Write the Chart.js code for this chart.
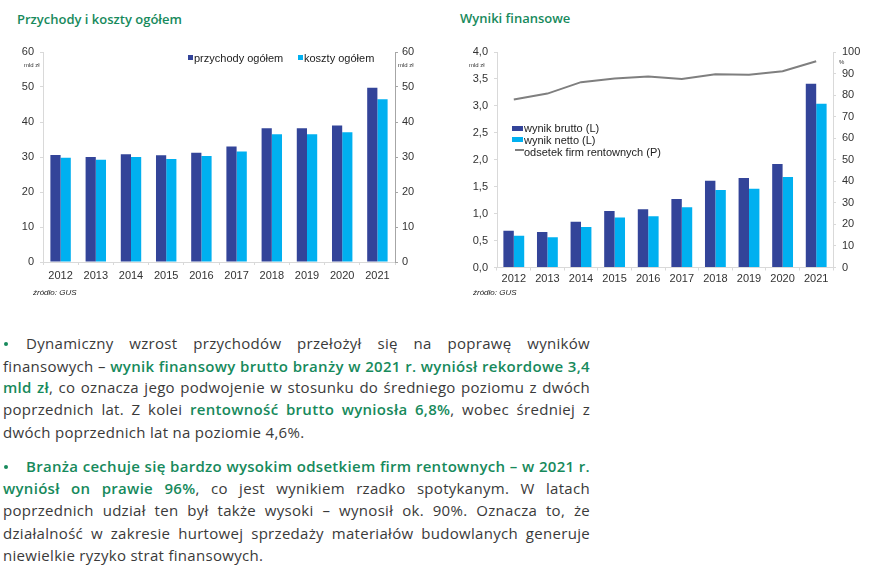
<!DOCTYPE html>
<html lang="pl"><head><meta charset="utf-8">
<script src="https://cdn.jsdelivr.net/npm/chart.js@4.4.1/dist/chart.umd.min.js"></script>
<style>
html,body{margin:0;padding:0;background:#fff;}
body{width:870px;height:570px;position:relative;overflow:hidden;font-family:"Liberation Sans",Arial,sans-serif;color:#404040;}
.abs{position:absolute;white-space:nowrap;}
.title{font-family:"Open Sans",sans-serif;font-weight:600;font-size:13px;color:#178a5c;line-height:16px;}
.unit{font-size:6px;color:#333;line-height:7px;}
.src{font-size:8px;font-style:italic;color:#222;line-height:9px;}
.leg{font-size:11px;color:#222;line-height:12px;}
.mk{position:absolute;}
canvas{position:absolute;}
.line{position:absolute;left:3px;width:587px;font-family:"Open Sans",sans-serif;font-size:15px;letter-spacing:0.3px;line-height:20px;color:#3a3a3a;text-align:justify;text-align-last:justify;white-space:nowrap;}
.line.last{text-align-last:left;}
.line b{color:#178a5c;font-weight:600;}
.bul{position:absolute;left:4px;width:4px;height:4px;background:#178a5c;border-radius:50%;}
</style>
</head><body>

<div class="abs title" style="left:17px;top:11px;">Przychody i koszty ogółem</div>
<div class="abs title" style="left:460px;top:10px;">Wyniki finansowe</div>

<canvas id="cL" width="430" height="270" style="left:0;top:30px;"></canvas>
<canvas id="cR" width="430" height="270" style="left:440px;top:30px;"></canvas>

<div class="abs unit" style="left:24px;top:62px;">mld zł</div>
<div class="abs unit" style="left:398px;top:62px;">mld zł</div>
<div class="abs unit" style="left:469px;top:62px;">mld zł</div>
<div class="abs unit" style="left:839px;top:59px;">%</div>

<div class="mk" style="left:188px;top:55px;width:5px;height:5px;background:#334499;"></div>
<div class="abs leg" style="left:194px;top:52px;">przychody ogółem</div>
<div class="mk" style="left:298px;top:55px;width:5px;height:5px;background:#00b0f0;"></div>
<div class="abs leg" style="left:304px;top:52px;">koszty ogółem</div>

<div class="mk" style="left:512px;top:126px;width:11px;height:5px;background:#334499;"></div>
<div class="abs leg" style="left:524px;top:122px;">wynik brutto (L)</div>
<div class="mk" style="left:512px;top:137px;width:11px;height:5px;background:#00b0f0;"></div>
<div class="abs leg" style="left:524px;top:134px;">wynik netto (L)</div>
<div class="mk" style="left:515px;top:149px;width:9px;height:2px;background:#7f7f7f;"></div>
<div class="abs leg" style="left:524px;top:146px;">odsetek firm rentownych (P)</div>

<div class="abs src" style="left:33px;top:288px;">źródło: GUS</div>
<div class="abs src" style="left:473px;top:288px;">źródło: GUS</div>

<div class="bul" style="top:342px;"></div>
<div class="line" style="top:333px;left:26px;width:564px;">Dynamiczny wzrost przychodów przełożył się na poprawę wyników</div>
<div class="line" style="top:356px;">finansowych – <b>wynik finansowy brutto branży w 2021 r. wyniósł rekordowe 3,4</b></div>
<div class="line" style="top:377px;"><b>mld zł</b>, co oznacza jego podwojenie w stosunku do średniego poziomu z dwóch</div>
<div class="line" style="top:399px;">poprzednich lat. Z kolei <b>rentowność brutto wyniosła 6,8%</b>, wobec średniej z</div>
<div class="line last" style="top:422px;">dwóch poprzednich lat na poziomie 4,6%.</div>

<div class="bul" style="top:465px;"></div>
<div class="line" style="top:456px;left:26px;width:564px;"><b>Branża cechuje się bardzo wysokim odsetkiem firm rentownych – w 2021 r.</b></div>
<div class="line" style="top:478px;"><b>wyniósł on prawie 96%</b>, co jest wynikiem rzadko spotykanym. W latach</div>
<div class="line" style="top:500px;">poprzednich udział ten był także wysoki – wynosił ok. 90%. Oznacza to, że</div>
<div class="line" style="top:523px;">działalność w zakresie hurtowej sprzedaży materiałów budowlanych generuje</div>
<div class="line last" style="top:545px;">niewielkie ryzyko strat finansowych.</div>

<script>
const years = ['2012','2013','2014','2015','2016','2017','2018','2019','2020','2021'];
const przychody = [30.6,30.0,30.8,30.5,31.2,33.0,38.2,38.2,39.0,49.8];
const koszty = [29.8,29.2,30.0,29.4,30.3,31.6,36.5,36.5,37.1,46.5];
const wynikBrutto = [0.68,0.66,0.85,1.05,1.08,1.27,1.61,1.66,1.92,3.41];
const wynikNetto = [0.59,0.56,0.75,0.93,0.95,1.12,1.44,1.46,1.68,3.04];
const odsetekRentownych = [78,80.7,86,87.7,88.6,87.5,89.7,89.4,91.1,95.7];

const DARK = '#334499', LIGHT = '#00b0f0', GREY = '#7f7f7f';
const tickFont = {family:'Liberation Sans', size:11};

function yAxis(pos, min, max, step, width, pad, col, fmt){
  return {
    position:pos, min:min, max:max,
    ticks:{stepSize:step, color:'#333', font:tickFont, padding:pad, callback: fmt || (v=>v)},
    grid:{drawOnChartArea:false, drawTicks:true, tickLength:3, color:col},
    border:{display:true, color:col},
    afterFit(s){ s.width = width; }
  };
}
function xAxis(height, pad){
  return {
    grid:{drawOnChartArea:false, drawTicks:true, tickLength:3, color:'#d9d9d9', offset:true},
    border:{display:true, color:'#d9d9d9'},
    ticks:{color:'#333', font:tickFont, padding:pad, maxRotation:0, autoSkip:false},
    afterFit(s){ s.height = height; }
  };
}

new Chart(document.getElementById('cL'), {
  type:'bar',
  data:{labels:years, datasets:[
    {label:'przychody ogółem', data:przychody, backgroundColor:DARK, yAxisID:'y'},
    {label:'koszty ogółem', data:koszty, backgroundColor:LIGHT, yAxisID:'y'}
  ]},
  options:{
    responsive:false, animation:false,
    layout:{padding:{top:22,left:0,right:0,bottom:0}},
    plugins:{legend:{display:false}, tooltip:{enabled:false}},
    datasets:{bar:{categoryPercentage:0.58, barPercentage:1}},
    scales:{
      x: xAxis(38, 4),
      y: yAxis('left', 0, 60, 10, 43, 6, '#d9d9d9'),
      y2: yAxis('right', 0, 60, 10, 35, 4, '#a6a6a6')
    }
  }
});

const comma = v => v.toFixed(1).replace('.', ',');
new Chart(document.getElementById('cR'), {
  type:'bar',
  data:{labels:years, datasets:[
    {type:'line', label:'odsetek firm rentownych (P)', data:odsetekRentownych, borderColor:GREY, borderWidth:2, pointRadius:0, tension:0, fill:false, yAxisID:'y2'},
    {label:'wynik brutto (L)', data:wynikBrutto, backgroundColor:DARK, yAxisID:'y'},
    {label:'wynik netto (L)', data:wynikNetto, backgroundColor:LIGHT, yAxisID:'y'}
  ]},
  options:{
    responsive:false, animation:false,
    layout:{padding:{top:22,left:0,right:0,bottom:0}},
    plugins:{legend:{display:false}, tooltip:{enabled:false}},
    datasets:{bar:{categoryPercentage:0.62, barPercentage:1}},
    scales:{
      x: xAxis(32.5, 2),
      y: yAxis('left', 0, 4, 0.5, 57, 6, '#d9d9d9', comma),
      y2: yAxis('right', 0, 100, 10, 37, 6, '#d9d9d9')
    }
  }
});
</script>
</body></html>
